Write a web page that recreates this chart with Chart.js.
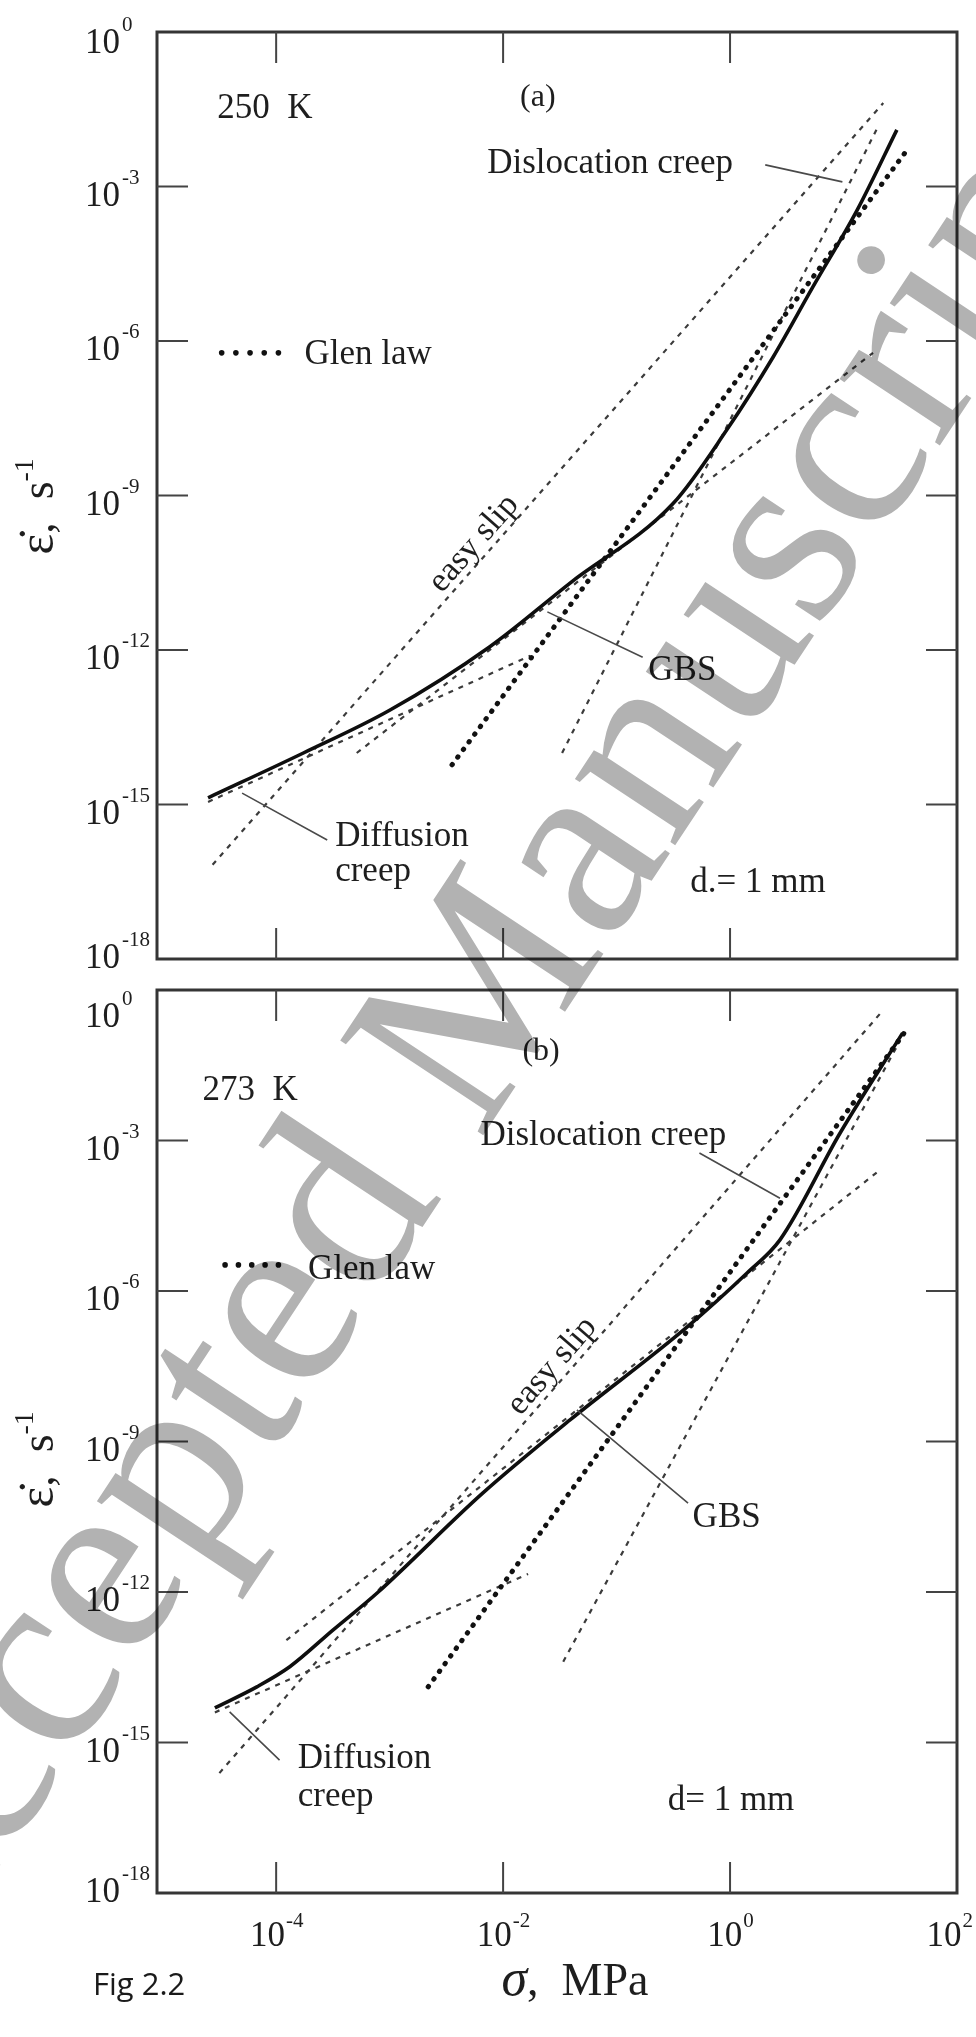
<!DOCTYPE html>
<html lang="en">
<head>
<meta charset="UTF-8">
<title>Ice creep: strain rate vs stress, d = 1 mm</title>
<script src="https://cdn.jsdelivr.net/npm/chart.js"></script>
<style>
  html, body { margin: 0; padding: 0; background: #fff; }
  body { width: 976px; height: 2037px; position: relative; overflow: hidden; }
  canvas { position: absolute; left: 0; }
  #chartA { top: 0; }
  #chartB { top: 980px; }
  #stamp { top: 0; mix-blend-mode: multiply; pointer-events: none; }
</style>
</head>
<body>
<canvas id="chartA" width="976" height="980"></canvas>
<canvas id="chartB" width="976" height="1057"></canvas>
<canvas id="stamp" width="976" height="2037"></canvas>
<script>
// All values are log10: stress in MPa, strain rate in 1/s.

// (a) 250 K
const a_total_logS = [-4.60, -3.76, -3.00, -2.12, -1.41, -0.50, -0.03, 0.38, 0.73, 1.12, 1.47];
const a_total_logE = [-14.87, -14.00, -13.17, -11.94, -10.70, -9.15, -7.73, -6.31, -4.95, -3.46, -1.90];
const a_glen_logS = [-2.45, 1.54];
const a_glen_logE = [-14.23, -2.35];
const a_easySlip_logS = [-4.56, 1.35];
const a_easySlip_logE = [-16.17, -1.38];
const a_gbs_logS = [-3.29, 1.26];
const a_gbs_logE = [-14.00, -6.23];
const a_diffusion_logS = [-4.60, -1.76];
const a_diffusion_logE = [-14.95, -12.11];
const a_dislocation_logS = [-1.48, 1.29];
const a_dislocation_logE = [-14.00, -1.90];

// (b) 273 K
const b_total_logS = [-4.54, -4.17, -3.88, -3.50, -3.11, -2.18, -1.41, -0.38, 0.15, 0.44, 0.97, 1.52];
const b_total_logE = [-14.31, -13.89, -13.49, -12.76, -12.02, -10.03, -8.57, -6.72, -5.64, -4.98, -2.85, -0.86];
const b_glen_logS = [-2.66, 1.54];
const b_glen_logE = [-13.89, -0.84];
const b_easySlip_logS = [-4.50, 1.35];
const b_easySlip_logE = [-15.61, -0.40];
const b_gbs_logS = [-3.91, 1.32];
const b_gbs_logE = [-12.96, -3.59];
const b_diffusion_logS = [-4.54, -1.78];
const b_diffusion_logE = [-14.40, -11.64];
const b_dislocation_logS = [-1.47, 1.50];
const b_dislocation_logE = [-13.39, -1.00];

// axes (decade exponents)
const xTickExp = [-4, -2, 0, 2];
const yTickExp = [0, -3, -6, -9, -12, -15, -18];
const X_MIN_EXP = -5.05, X_MAX_EXP = 2;
const Y_MIN_EXP = -18, Y_MAX_EXP = 0;

const SERIF = '"Liberation Serif", "Times New Roman", serif';
const INK = '#1e1e1e';
const TICK = 31;

const panels = [
  {
    canvas: 'chartA',
    padding: { left: 157, right: 19, top: 32, bottom: 21 },
    total: [a_total_logS, a_total_logE],
    glen: [a_glen_logS, a_glen_logE],
    easy: [a_easySlip_logS, a_easySlip_logE],
    gbs: [a_gbs_logS, a_gbs_logE],
    diff: [a_diffusion_logS, a_diffusion_logE],
    disl: [a_dislocation_logS, a_dislocation_logE],
    texts: [
      { t: '250  K', lx: -4.52, ly: -1.67 },
      { t: '(a)', lx: -1.85, ly: -1.44, size: 32 },
      { t: 'Dislocation creep', lx: -2.14, ly: -2.74 },
      { t: 'GBS', lx: -0.72, ly: -12.58 },
      { t: 'Diffusion', lx: -3.48, ly: -15.81 },
      { t: 'creep', lx: -3.48, ly: -16.49 },
      { t: 'd.= 1 mm', lx: -0.35, ly: -16.70 },
      { t: 'Glen law', lx: -3.75, ly: -6.45 }
    ],
    leaders: [
      [0.31, -2.58, 0.99, -2.91],
      [-1.61, -11.26, -0.77, -12.14],
      [-4.30, -14.78, -3.55, -15.69]
    ],
    glenKey: { lx0: -4.48, lx1: -3.98, ly: -6.23 },
    easyLabel: { lx: -2.15, offset: 16 },
    topLabelDrop: 0,
    yTitleShift: 11,
    xLabels: false
  },
  {
    canvas: 'chartB',
    padding: { left: 157, right: 19, top: 10, bottom: 144 },
    total: [b_total_logS, b_total_logE],
    glen: [b_glen_logS, b_glen_logE],
    easy: [b_easySlip_logS, b_easySlip_logE],
    gbs: [b_gbs_logS, b_gbs_logE],
    diff: [b_diffusion_logS, b_diffusion_logE],
    disl: [b_dislocation_logS, b_dislocation_logE],
    texts: [
      { t: '273  K', lx: -4.65, ly: -2.19 },
      { t: '(b)', lx: -1.83, ly: -1.40, size: 32 },
      { t: 'Dislocation creep', lx: -2.20, ly: -3.09 },
      { t: 'GBS', lx: -0.33, ly: -10.70 },
      { t: 'Diffusion', lx: -3.81, ly: -15.51 },
      { t: 'creep', lx: -3.81, ly: -16.26 },
      { t: 'd= 1 mm', lx: -0.55, ly: -16.34 },
      { t: 'Glen law', lx: -3.72, ly: -5.76 }
    ],
    leaders: [
      [-0.27, -3.25, 0.44, -4.15],
      [-1.35, -8.37, -0.37, -10.23],
      [-4.41, -14.39, -3.97, -15.35]
    ],
    glenKey: { lx0: -4.45, lx1: -3.98, ly: -5.48 },
    easyLabel: { lx: -1.46, offset: 16 },
    topLabelDrop: 16,
    yTitleShift: 18,
    xLabels: true
  }
];

function pts(series) {
  const [logS, logE] = series;
  return logS.map((s, i) => ({ x: Math.pow(10, s), y: Math.pow(10, logE[i]) }));
}

function expText(e) {
  return e < 0 ? '-' + Math.abs(e) : String(e);
}

// frame, ticks, tick labels, annotations and axis titles
function decor(p) {
  return {
    id: 'decor_' + p.canvas,
    afterDatasetsDraw(chart) {
      const ctx = chart.ctx;
      const area = chart.chartArea;
      const X = e => chart.scales.x.getPixelForValue(Math.pow(10, e));
      const Y = e => chart.scales.y.getPixelForValue(Math.pow(10, e));
      ctx.save();

      // box
      ctx.strokeStyle = '#353535';
      ctx.lineWidth = 3;
      ctx.strokeRect(area.left, area.top, area.right - area.left, area.bottom - area.top);

      // inward ticks on all four sides
      ctx.lineWidth = 2;
      ctx.strokeStyle = '#444';
      ctx.beginPath();
      xTickExp.forEach(e => {
        const x = X(e);
        if (x <= area.left + 2 || x >= area.right - 2) return;
        ctx.moveTo(x, area.top); ctx.lineTo(x, area.top + TICK);
        ctx.moveTo(x, area.bottom); ctx.lineTo(x, area.bottom - TICK);
      });
      yTickExp.forEach(e => {
        const y = Y(e);
        if (y <= area.top + 2 || y >= area.bottom - 2) return;
        ctx.moveTo(area.left, y); ctx.lineTo(area.left + TICK, y);
        ctx.moveTo(area.right, y); ctx.lineTo(area.right - TICK, y);
      });
      ctx.stroke();

      ctx.fillStyle = INK;
      ctx.textBaseline = 'alphabetic';

      // y tick labels 10^n
      yTickExp.forEach(e => {
        const y = Y(e);
        let base = y + 19;
        if (e === Y_MIN_EXP) base = y + 9;
        if (e === Y_MAX_EXP) base = y + 21 + p.topLabelDrop;
        ctx.font = '35px ' + SERIF;
        ctx.textAlign = 'right';
        ctx.fillText('10', area.left - 37, base);
        ctx.font = '21px ' + SERIF;
        ctx.textAlign = 'left';
        ctx.fillText(expText(e), area.left - 35, base - 22);
      });

      // x tick labels (lower panel only)
      if (p.xLabels) {
        xTickExp.forEach(e => {
          const x = X(e);
          ctx.font = '35px ' + SERIF;
          const wB = ctx.measureText('10').width;
          ctx.font = '21px ' + SERIF;
          const wE = ctx.measureText(expText(e)).width;
          let start = x - (wB + wE) / 2;
          start = Math.min(start, chart.width - 4 - wB - wE);
          ctx.textAlign = 'left';
          ctx.font = '35px ' + SERIF;
          ctx.fillText('10', start, area.bottom + 53);
          ctx.font = '21px ' + SERIF;
          ctx.fillText(expText(e), start + wB + 1, area.bottom + 34);
        });
      }

      // annotation texts
      ctx.textAlign = 'left';
      p.texts.forEach(o => {
        ctx.font = (o.size || 35) + 'px ' + SERIF;
        ctx.fillText(o.t, X(o.lx), Y(o.ly));
      });

      // leader lines
      ctx.strokeStyle = '#4a4a4a';
      ctx.lineWidth = 1.6;
      ctx.beginPath();
      p.leaders.forEach(l => {
        ctx.moveTo(X(l[0]), Y(l[1]));
        ctx.lineTo(X(l[2]), Y(l[3]));
      });
      ctx.stroke();

      // Glen law key: five dots
      const g = p.glenKey;
      ctx.fillStyle = '#111';
      for (let i = 0; i < 5; i++) {
        const lx = g.lx0 + (g.lx1 - g.lx0) * i / 4;
        ctx.beginPath();
        ctx.arc(X(lx), Y(g.ly), 2.8, 0, Math.PI * 2);
        ctx.fill();
      }

      // "easy slip" written along its line
      const [es, ee] = p.easy;
      const x0 = X(es[0]), y0 = Y(ee[0]), x1 = X(es[1]), y1 = Y(ee[1]);
      const ang = Math.atan2(y1 - y0, x1 - x0);
      const lyAt = ee[0] + (p.easyLabel.lx - es[0]) * (ee[1] - ee[0]) / (es[1] - es[0]);
      ctx.save();
      ctx.translate(X(p.easyLabel.lx), Y(lyAt));
      ctx.rotate(ang);
      ctx.fillStyle = INK;
      ctx.font = '34px ' + SERIF;
      ctx.textAlign = 'center';
      ctx.textBaseline = 'middle';
      ctx.fillText('easy slip', 0, -p.easyLabel.offset);
      ctx.restore();

      // y axis title
      ctx.save();
      ctx.fillStyle = INK;
      ctx.textAlign = 'left';
      ctx.textBaseline = 'alphabetic';
      const parts = [
        { t: '\u03B5\u0307', f: '50px ' + SERIF, dy: 0 },
        { t: ',  s', f: '46px ' + SERIF, dy: 0 },
        { t: '-1', f: '28px ' + SERIF, dy: -20 }
      ];
      let total = 0;
      parts.forEach(q => { ctx.font = q.f; q.w = ctx.measureText(q.t).width; total += q.w; });
      const cy = (area.top + area.bottom) / 2 + p.yTitleShift;
      ctx.translate(area.left - 104, cy + total / 2);
      ctx.rotate(-Math.PI / 2);
      let cx = 0;
      parts.forEach(q => { ctx.font = q.f; ctx.fillText(q.t, cx, q.dy); cx += q.w; });
      ctx.restore();

      // x axis title and figure number (lower panel only)
      if (p.xLabels) {
        ctx.textAlign = 'left';
        ctx.fillStyle = INK;
        ctx.font = 'italic 52px ' + SERIF;
        const wS = ctx.measureText('\u03C3').width;
        ctx.font = '46px ' + SERIF;
        const wR = ctx.measureText(',  MPa').width;
        const sx = (area.left + area.right) / 2 + 18 - (wS + wR) / 2;
        ctx.font = 'italic 52px ' + SERIF;
        ctx.fillText('\u03C3', sx, area.bottom + 102);
        ctx.font = '46px ' + SERIF;
        ctx.fillText(',  MPa', sx + wS, area.bottom + 102);

        ctx.fillStyle = '#1a1a1a';
        ctx.font = '31px "Open Sans", "Noto Sans", sans-serif';
        ctx.fillText('Fig 2.2', area.left - 64, area.bottom + 102);
      }

      ctx.restore();
    }
  };
}

function build(p) {
  const dashed = s => ({
    data: pts(s), borderColor: '#3b3b3b', borderWidth: 2.2,
    borderDash: [5, 6], pointRadius: 0
  });
  new Chart(document.getElementById(p.canvas), {
    type: 'line',
    data: {
      datasets: [
        { data: pts(p.total), borderColor: '#0e0e0e', borderWidth: 3.6, pointRadius: 0,
          cubicInterpolationMode: 'monotone' },
        { data: pts(p.glen), borderColor: '#111', borderWidth: 5, borderDash: [0.5, 9],
          borderCapStyle: 'round', pointRadius: 0 },
        dashed(p.easy), dashed(p.gbs), dashed(p.diff), dashed(p.disl)
      ]
    },
    options: {
      responsive: false,
      animation: false,
      events: [],
      layout: { padding: p.padding },
      plugins: { legend: { display: false }, tooltip: { enabled: false } },
      scales: {
        x: { type: 'logarithmic', min: Math.pow(10, X_MIN_EXP), max: Math.pow(10, X_MAX_EXP), display: false },
        y: { type: 'logarithmic', min: Math.pow(10, Y_MIN_EXP), max: Math.pow(10, Y_MAX_EXP), display: false }
      }
    },
    plugins: [decor(p)]
  });
}

panels.forEach(build);

// diagonal stamp across both panels
const st = document.getElementById('stamp').getContext('2d');
st.fillStyle = '#b2b2b2';
st.font = '262px ' + SERIF;
st.translate(-103, 2021);
st.rotate(-56.5 * Math.PI / 180);
st.fillText('Accepted Manuscript', 0, 0);
</script>
</body>
</html>
